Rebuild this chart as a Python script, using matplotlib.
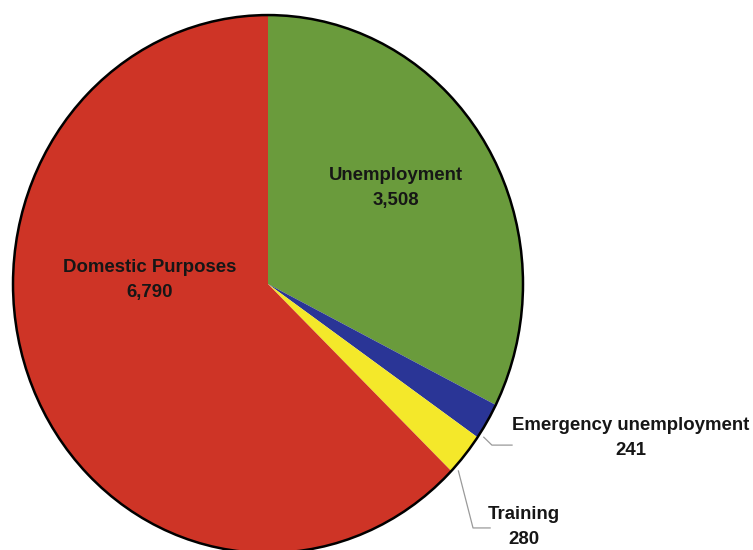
#!/usr/bin/env python3
"""Benefit recipients by type — pie chart"""
import matplotlib
matplotlib.use('Agg')
import matplotlib.pyplot as plt
import numpy as np
from matplotlib.patches import Circle

# Data (clockwise from 12 o'clock)
labels = ['Unemployment', 'Emergency unemployment', 'Training', 'Domestic Purposes']
values = [3508, 241, 280, 6790]
colors = ['#6A9B3C', '#2A3596', '#F4E82A', '#CE3426']

plt.rcParams['font.family'] = ['Liberation Sans', 'DejaVu Sans']

fig = plt.figure(figsize=(7.53, 5.5), dpi=100)
ax = fig.add_axes([0, 0, 1, 1])

wedges, _ = ax.pie(values, colors=colors, startangle=90, counterclock=False,
                   radius=1.0, wedgeprops=dict(linewidth=0))
# the original pie is stretched vertically -> let the axes aspect be free
ax.set_aspect('auto')
ax.set_xlim(-1.051, 1.902)
ax.set_ylim(-0.989, 1.056)
ax.axis('off')

# black outline only around the rim
ax.add_patch(Circle((0, 0), 1.0, fill=False, edgecolor='black', lw=1.8, zorder=5))

txt = dict(fontsize=13.4, fontweight='bold', ha='center', va='center',
           linespacing=1.6, color='#161616')

def lab(i):
    return f'{labels[i]}\n{values[i]:,}'

# inside labels
ax.text(0.50, 0.357, lab(0), **txt)
ax.text(-0.463, 0.015, lab(3), **txt)

# outside labels with leader lines
def rim_point(w, frac, r=1.02):
    a = np.deg2rad(w.theta1 + frac * (w.theta2 - w.theta1))
    return r * np.cos(a), r * np.sin(a)

lead = dict(color='#9a9a9a', lw=0.9, zorder=4)

x0, y0 = rim_point(wedges[1], 0.1)
ax.plot([x0, 0.878, 0.957], [y0, -0.599, -0.599], **lead)
ax.text(1.424, -0.572, lab(1), **txt)

x0, y0 = rim_point(wedges[2], 0.12)
ax.plot([x0, 0.804, 0.871], [y0, -0.907, -0.907], **lead)
ax.text(1.004, -0.903, lab(2), **txt)

fig.savefig('out.png', dpi=100, facecolor='white')
